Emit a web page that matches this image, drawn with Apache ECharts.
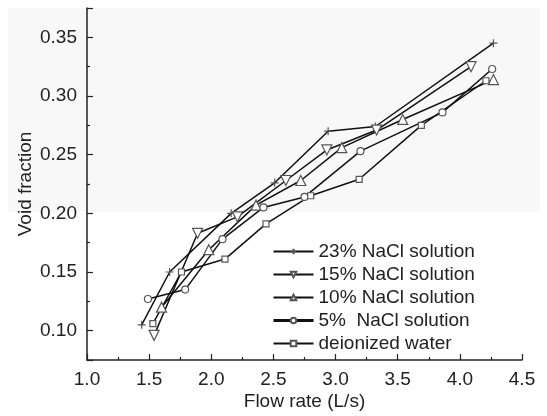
<!DOCTYPE html>
<html>
<head>
<meta charset="utf-8">
<script src="https://cdn.jsdelivr.net/npm/echarts@6/dist/echarts.min.js"></script>
<style>
    html, body { margin: 0; padding: 0; background: #fff; }
    #chart { width: 547px; height: 416px; }
</style>
</head>
<body>
<div id="chart"></div>
<script>
// flow rate (L/s), void fraction
let nacl23 = [[1.44, 0.105], [1.665, 0.150], [2.16, 0.200], [2.51, 0.226], [2.94, 0.270], [3.32, 0.274], [4.27, 0.345]];
let nacl15 = [[1.54, 0.096], [1.89, 0.183], [2.21, 0.197], [2.60, 0.228], [2.93, 0.254], [3.33, 0.271], [4.09, 0.325]];
let nacl10 = [[1.60, 0.120], [1.98, 0.169], [2.36, 0.207], [2.72, 0.228], [3.05, 0.256], [3.54, 0.280], [4.27, 0.314]];
let nacl5 = [[1.49, 0.127], [1.79, 0.135], [2.09, 0.178], [2.42, 0.205], [2.75, 0.214], [3.20, 0.253], [3.86, 0.286], [4.26, 0.323]];
let water = [[1.53, 0.106], [1.76, 0.150], [2.11, 0.161], [2.44, 0.191], [2.80, 0.215], [3.19, 0.229], [3.69, 0.275], [4.21, 0.313]];

let seriesNames = ["23% NaCl solution", "15% NaCl solution", "10% NaCl solution", "5%  NaCl solution", "deionized water"];

const font = "Liberation Sans, Arial, sans-serif";
const plus = "path://M5,0L5,10M0,5L10,5";

function line(name, data, symbol, size, rotate) {
    return {
        name: name,
        type: "line",
        data: data,
        symbol: symbol,
        symbolSize: size,
        symbolRotate: rotate || 0,
        showAllSymbol: true,
        lineStyle: { color: "#111", width: 1.5 },
        itemStyle: { color: "#fff", borderColor: "#555", borderWidth: 1.2 },
        emphasis: { disabled: true },
        z: 3
    };
}

let chart = echarts.init(document.getElementById("chart"));
let option = {
    animation: false,
    textStyle: { fontFamily: font },
    graphic: [{
        type: "rect",
        left: 8,
        top: 8,
        z: -10,
        silent: true,
        shape: { width: 532, height: 204 },
        style: { fill: "#f8f8f8" }
    }],
    grid: {
        left: 87,
        right: 25,
        top: 8,
        bottom: 55
    },
    legend: {
        orient: "vertical",
        left: 267,
        top: 237,
        itemWidth: 40,
        itemHeight: 7,
        itemGap: 4,
        textStyle: { fontSize: 19, color: "#222", fontFamily: font, lineHeight: 19 },
        data: [
            seriesNames[0], seriesNames[1], seriesNames[2],
            { name: seriesNames[3], lineStyle: { width: 3 } },
            seriesNames[4]
        ]
    },
    xAxis: {
        type: "value",
        name: "Flow rate (L/s)",
        nameLocation: "middle",
        nameGap: 32,
        nameMoveOverlap: false,
        nameTextStyle: { fontSize: 19, color: "#222" },
        min: 1.0,
        max: 4.5,
        interval: 0.5,
        axisLine: { lineStyle: { color: "#222", width: 1.5 } },
        axisTick: { inside: true, length: 6, lineStyle: { color: "#222", width: 1.2 } },
        minorTick: { show: true, splitNumber: 2, length: 3, lineStyle: { color: "#222", width: 1.2 } },
        axisLabel: {
            fontSize: 19, color: "#222", margin: 10,
            formatter: v => v.toFixed(1)
        },
        splitLine: { show: false }
    },
    yAxis: {
        type: "value",
        name: "Void fraction",
        nameLocation: "middle",
        nameGap: 52,
        nameMoveOverlap: false,
        nameTextStyle: { fontSize: 19, color: "#222" },
        min: 0.075,
        max: 0.375,
        splitNumber: 6,
        axisLine: { show: true, lineStyle: { color: "#222", width: 1.5 } },
        axisTick: { show: true, inside: true, length: 6, lineStyle: { color: "#222", width: 1.2 } },
        minorTick: { show: true, splitNumber: 2, length: 3, lineStyle: { color: "#222", width: 1.2 } },
        axisLabel: {
            fontSize: 19, color: "#222", margin: 10,
            showMinLabel: false, showMaxLabel: false,
            formatter: v => v.toFixed(2)
        },
        splitLine: { show: false }
    },
    series: [
        line(seriesNames[0], nacl23, plus, 8),
        line(seriesNames[1], nacl15, "triangle", 10, 180),
        line(seriesNames[2], nacl10, "triangle", 10),
        line(seriesNames[3], nacl5, "circle", 7),
        line(seriesNames[4], water, "rect", 6)
    ]
};
chart.setOption(option);
</script>
</body>
</html>
